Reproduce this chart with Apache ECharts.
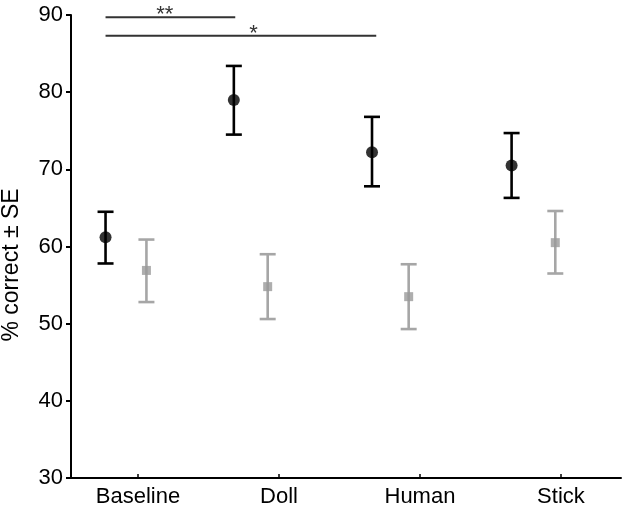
<!DOCTYPE html>
<html>
<head>
<meta charset="utf-8">
<script src="https://cdn.jsdelivr.net/npm/echarts@6/dist/echarts.min.js"></script>
<style>html,body{margin:0;padding:0;background:#fff}#c{width:628px;height:514px}</style>
</head>
<body>
<div id="c"></div>
<script>
const categories = ['Baseline', 'Doll', 'Human', 'Stick'];
const blackPos = [-0.23, 0.68, 1.66, 2.65];
const grayPos = [0.06, 0.92, 1.92, 2.96];
const blackMean = [61.2, 79.0, 72.2, 70.5];
const blackLow = [57.8, 74.5, 67.8, 66.3];
const blackHigh = [64.5, 83.4, 76.8, 74.7];
const grayMean = [56.9, 54.8, 53.5, 60.5];
const grayLow = [52.8, 50.6, 49.3, 56.5];
const grayHigh = [60.9, 59.0, 57.7, 64.6];
const sigFrom = [-0.23, -0.23];
const sigTo = [0.69, 1.69];
const sigY = [89.7, 87.3];
const sigText = ['**', '*'];
const sigTextX = [0.19, 0.82];

const FONT = 'Liberation Sans, Arial, sans-serif';
const chart = echarts.init(document.getElementById('c'));

function errSeries(pos, low, high, color, width) {
  return {
    type: 'custom',
    silent: true,
    z: 2,
    data: pos.map((p, i) => [p, low[i], high[i]]),
    renderItem: function (params, api) {
      const x = api.value(0);
      const lo = api.coord([x, api.value(1)]);
      const hi = api.coord([x, api.value(2)]);
      const hw = 8;
      const st = { stroke: color, lineWidth: width };
      return {
        type: 'group',
        children: [
          { type: 'line', shape: { x1: lo[0], y1: lo[1], x2: hi[0], y2: hi[1] }, style: st },
          { type: 'line', shape: { x1: lo[0] - hw, y1: lo[1], x2: lo[0] + hw, y2: lo[1] }, style: st },
          { type: 'line', shape: { x1: hi[0] - hw, y1: hi[1], x2: hi[0] + hw, y2: hi[1] }, style: st }
        ]
      };
    }
  };
}

const option = {
  animation: false,
  backgroundColor: '#fff',
  grid: { left: 71, right: 7, top: 15, bottom: 36, containLabel: false, outerBoundsMode: 'none' },
  xAxis: {
    type: 'value',
    min: -0.475,
    max: 3.426,
    splitLine: { show: false },
    axisLine: { onZero: false, lineStyle: { color: '#000', width: 2 } },
    axisTick: { inside: true, length: 4, customValues: [0, 1, 2, 3], lineStyle: { color: '#000', width: 1.5 } },
    axisLabel: {
      customValues: [0, 1, 2, 3],
      formatter: v => categories[Math.round(v)],
      color: '#000', fontSize: 22, fontFamily: FONT, margin: 8
    }
  },
  yAxis: {
    type: 'value',
    min: 30, max: 90, interval: 10,
    name: '% correct ± SE',
    nameLocation: 'middle',
    nameRotate: 90,
    nameGap: 48,
    nameTextStyle: { color: '#000', fontSize: 23, fontFamily: FONT, padding: [0, 37, 0, 0] },
    splitLine: { show: false },
    axisLine: { show: true, onZero: false, lineStyle: { color: '#000', width: 2 } },
    axisTick: { show: true, length: 5, lineStyle: { color: '#000', width: 2 } },
    axisLabel: { color: '#000', fontSize: 22, fontFamily: FONT, margin: 8 }
  },
  series: [
    errSeries(blackPos, blackLow, blackHigh, '#000', 2.6),
    errSeries(grayPos, grayLow, grayHigh, '#a6a6a6', 2.6),
    {
      type: 'scatter', z: 3, symbol: 'circle', symbolSize: 12,
      itemStyle: { color: '#000' },
      data: blackPos.map((p, i) => [p, blackMean[i]])
    },
    {
      type: 'scatter', z: 3, symbol: 'rect', symbolSize: 9,
      itemStyle: { color: '#9a9a9a' },
      data: grayPos.map((p, i) => [p, grayMean[i]])
    },
    {
      type: 'custom',
      silent: true,
      clip: false,
      data: sigFrom.map((f, i) => [f, sigTo[i], sigY[i], sigTextX[i], i]),
      renderItem: function (params, api) {
        const a = api.coord([api.value(0), api.value(2)]);
        const b = api.coord([api.value(1), api.value(2)]);
        const t = api.coord([api.value(3), api.value(2)]);
        return {
          type: 'group',
          children: [
            { type: 'line', shape: { x1: a[0], y1: a[1], x2: b[0], y2: b[1] }, style: { stroke: '#333', lineWidth: 2 } },
            { type: 'text', x: t[0], y: a[1] - 2, style: { text: sigText[api.value(4)], fill: '#333', fontSize: 22, fontFamily: FONT, align: 'center', verticalAlign: 'middle' } }
          ]
        };
      }
    }
  ]
};
chart.setOption(option);
</script>
</body>
</html>
